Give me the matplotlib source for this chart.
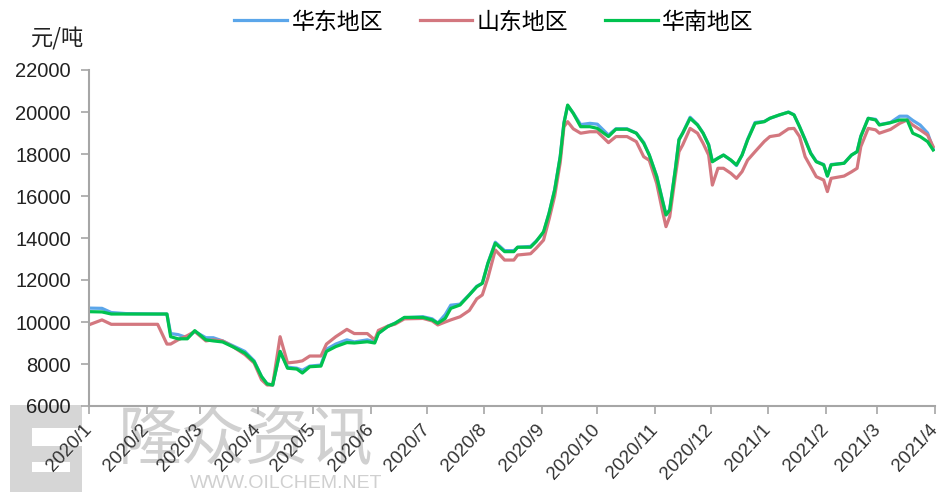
import matplotlib
matplotlib.use("Agg")
import matplotlib.pyplot as plt
from matplotlib.patches import Rectangle
import pandas as pd

plt.rcParams['font.family'] = ['Noto Sans CJK SC', 'DejaVu Sans']

# 价格日期
dates = [
    '2020-01-02', '2020-01-08', '2020-01-13', '2020-01-21', '2020-02-07', '2020-02-12',
    '2020-02-14', '2020-02-18', '2020-02-23', '2020-02-27', '2020-03-04', '2020-03-08',
    '2020-03-13', '2020-03-19', '2020-03-25', '2020-03-30', '2020-04-03', '2020-04-06',
    '2020-04-09', '2020-04-13', '2020-04-17', '2020-04-22', '2020-04-25', '2020-04-29',
    '2020-05-05', '2020-05-08', '2020-05-13', '2020-05-19', '2020-05-23', '2020-05-30',
    '2020-06-03', '2020-06-05', '2020-06-10', '2020-06-14', '2020-06-19', '2020-06-29',
    '2020-07-04', '2020-07-07', '2020-07-11', '2020-07-14', '2020-07-19', '2020-07-24',
    '2020-07-28', '2020-07-31', '2020-08-03', '2020-08-07', '2020-08-12', '2020-08-17',
    '2020-08-19', '2020-08-26', '2020-08-29', '2020-09-02', '2020-09-05', '2020-09-08',
    '2020-09-11', '2020-09-13', '2020-09-15', '2020-09-18', '2020-09-22', '2020-09-27',
    '2020-10-01', '2020-10-07', '2020-10-11', '2020-10-17', '2020-10-22', '2020-10-26',
    '2020-10-29', '2020-11-02', '2020-11-05', '2020-11-07', '2020-11-09', '2020-11-12',
    '2020-11-14', '2020-11-16', '2020-11-20', '2020-11-24', '2020-11-27', '2020-11-30',
    '2020-12-02', '2020-12-05', '2020-12-08', '2020-12-12', '2020-12-15', '2020-12-18',
    '2020-12-21', '2020-12-25', '2020-12-30', '2021-01-02', '2021-01-07', '2021-01-12',
    '2021-01-15', '2021-01-18', '2021-01-21', '2021-01-24', '2021-01-27', '2021-01-31',
    '2021-02-02', '2021-02-04', '2021-02-11', '2021-02-15', '2021-02-18', '2021-02-20',
    '2021-02-24', '2021-02-28', '2021-03-02', '2021-03-08', '2021-03-13', '2021-03-17',
    '2021-03-20', '2021-03-24', '2021-03-28', '2021-03-31',
]

east = [
    10660, 10650, 10450, 10400, 10380, 10380, 9450, 9400, 9250, 9550, 9250, 9250,
    9100, 8850, 8600, 8150, 7400, 7050, 7000, 8600, 7850, 7800, 7700, 7900,
    7950, 8700, 8950, 9150, 9050, 9150, 9050, 9450, 9800, 9950, 10200, 10250,
    10150, 9950, 10350, 10800, 10850, 11300, 11700, 11850, 12800, 13800, 13400, 13400,
    13560, 13600, 13850, 14250, 15200, 16300, 17900, 19500, 20300, 19950, 19400, 19460,
    19420, 18900, 19200, 19200, 19000, 18550, 17950, 16950, 15850, 15100, 15350, 17250,
    18700, 19000, 19750, 19400, 19000, 18450, 17650, 17800, 17950, 17700, 17450, 17950,
    18700, 19500, 19550, 19700, 19850, 20000, 19870, 19300, 18700, 18050, 17650, 17500,
    16950, 17500, 17560, 17950, 18110, 18850, 19700, 19650, 19400, 19500, 19800, 19800,
    19600, 19380, 19000, 18250,
]

shandong = [
    9900, 10100, 9890, 9890, 9890, 8950, 8950, 9150, 9350, 9550, 9100, 9150,
    9100, 8800, 8450, 8050, 7250, 7000, 7000, 9300, 8050, 8100, 8150, 8380,
    8380, 8950, 9300, 9650, 9450, 9450, 9150, 9600, 9800, 9900, 10150, 10170,
    10050, 9860, 10000, 10100, 10250, 10550, 11100, 11290, 12100, 13430, 12950, 12950,
    13190, 13250, 13510, 13900, 14900, 16000, 17600, 19300, 19540, 19200, 18990, 19060,
    19060, 18540, 18830, 18830, 18590, 17870, 17700, 16600, 15330, 14540, 15010, 16920,
    18110, 18430, 19220, 18990, 18510, 17950, 16520, 17320, 17320, 17080, 16840, 17160,
    17710, 18110, 18600, 18830, 18900, 19200, 19220, 18830, 17870, 17400, 16920, 16760,
    16210, 16840, 16950, 17150, 17320, 18350, 19220, 19150, 18990, 19170, 19460, 19620,
    19380, 19150, 18900, 18350,
]

south = [
    10490, 10480, 10380, 10380, 10380, 10380, 9300, 9200, 9200, 9590, 9150, 9100,
    9050, 8800, 8520, 8110, 7400, 7050, 7000, 8600, 7800, 7760, 7570, 7870,
    7900, 8600, 8830, 9020, 9000, 9060, 9000, 9460, 9780, 9940, 10220, 10220,
    10100, 9940, 10170, 10650, 10810, 11290, 11680, 11840, 12790, 13750, 13350, 13350,
    13560, 13560, 13830, 14300, 15180, 16290, 17870, 19460, 20330, 19940, 19300, 19300,
    19220, 18830, 19180, 19180, 18990, 18510, 17950, 16920, 15810, 15100, 15330, 17240,
    18670, 18990, 19700, 19380, 18990, 18430, 17630, 17800, 17950, 17710, 17480, 17950,
    18670, 19460, 19540, 19700, 19860, 19990, 19860, 19300, 18670, 18030, 17630, 17480,
    16950, 17480, 17560, 17950, 18110, 18830, 19700, 19620, 19380, 19490, 19620, 19620,
    18990, 18830, 18590, 18190,
]

series_names = ['华东地区', '山东地区', '华南地区']
series_colors = ['#5ba6ea', '#d3777f', '#00c24f']
month_ticks = pd.date_range('2020-01-01', '2021-04-01', freq='MS')
tick_labels = [f'{d.year}/{d.month}' for d in month_ticks]
y_ticks = list(range(6000, 22001, 2000))

x = pd.to_datetime(dates)
latin = ['Liberation Sans', 'DejaVu Sans']

W, H = 944, 495
fig = plt.figure(figsize=(W / 100, H / 100), dpi=100)
ax = fig.add_axes([89 / W, 1 - 406 / H, 846 / W, 336 / H])


def px_rect(x0, y0, x1, y1, color):
    # 以像素坐标(左上为原点)画水印方块
    fig.patches.append(Rectangle((x0 / W, 1 - y1 / H), (x1 - x0) / W, (y1 - y0) / H,
                                 transform=fig.transFigure, facecolor=color,
                                 edgecolor='none', zorder=-2))


# 水印
wm = '#d0d0d0'
px_rect(10, 405, 82, 492, '#d6d6d6')
px_rect(32, 428, 82, 446, 'white')
px_rect(32, 462, 70, 472, 'white')
fig.text(118 / W, 1 - 440 / H, '隆众资讯', fontsize=46, color=wm, va='center', ha='left',
         zorder=-2)
fig.text(190 / W, 1 - 492 / H, 'WWW.OILCHEM.NET', fontsize=14, color=wm, va='bottom',
         ha='left', family=latin, zorder=-2)

for vals, name, col in zip([east, shandong, south], series_names, series_colors):
    ax.plot(x, vals, color=col, lw=2.3, label=name, solid_joinstyle='round')

ax.set_xlim(pd.Timestamp('2020-01-01'), pd.Timestamp('2021-04-01'))
ax.set_ylim(6000, 22000)
ax.set_xticks(month_ticks)
ax.set_xticklabels(tick_labels, rotation=47, ha='right', va='center', rotation_mode='anchor',
                   family=latin, fontsize=13.5, color='#333333')
ax.set_yticks(y_ticks)
ax.set_yticklabels([str(v) for v in y_ticks], family=latin, fontsize=14.5, color='#222222')
ax.tick_params(axis='both', direction='out', length=6, width=1.2, color='#a6a6a6')
ax.tick_params(axis='y', pad=7)
ax.tick_params(axis='x', pad=9)
for s in ['top', 'right']:
    ax.spines[s].set_visible(False)
for s in ['left', 'bottom']:
    ax.spines[s].set_color('#a6a6a6')
    ax.spines[s].set_linewidth(1.5)
ax.patch.set_alpha(0)

fig.text(58 / W, 1 - 39 / H, '元/吨', fontsize=16, ha='center', va='center', color='#222222')

fig.legend(loc='center', bbox_to_anchor=(494 / W, 1 - 22 / H), ncol=3, frameon=False,
           fontsize=16.5, handlelength=2.3, handletextpad=0.2, columnspacing=1.6)

fig.savefig('out.png', dpi=100)
